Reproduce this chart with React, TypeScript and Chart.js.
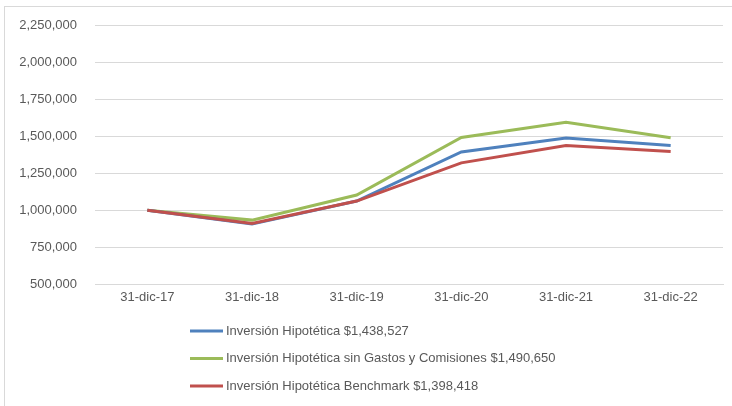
import React, { useEffect, useRef } from "react";
import { Chart, registerables } from "chart.js";

Chart.register(...registerables);

const categories = ["31-dic-17", "31-dic-18", "31-dic-19", "31-dic-20", "31-dic-21", "31-dic-22"];
const seriesNames = [
  "Inversión Hipotética $1,438,527",
  "Inversión Hipotética sin Gastos y Comisiones $1,490,650",
  "Inversión Hipotética Benchmark $1,398,418",
];
const inversion = [1000000, 906000, 1062000, 1395000, 1489000, 1438527];
const sinGastos = [1000000, 933000, 1103000, 1493000, 1597000, 1490650];
const benchmark = [1000000, 910000, 1062000, 1321000, 1439000, 1398418];
const colors = ["#4f81bd", "#9bbb59", "#c0504d"];

const yMin = 500000;
const yMax = 2250000;
const yStep = 250000;

const FONT = "'Liberation Sans', Arial, sans-serif";
const TEXT_COLOR = "#595959";

const legendPlugin = {
  id: "customLegend",
  afterDraw(chart: any) {
    const ctx = chart.ctx;
    const ds = chart.data.datasets;
    ctx.save();
    ds.forEach((d: any, i: number) => {
      const y = 331 + i * 27.5;
      ctx.strokeStyle = d.borderColor;
      ctx.lineWidth = 3;
      ctx.lineCap = "butt";
      ctx.beginPath();
      ctx.moveTo(190, y);
      ctx.lineTo(223, y);
      ctx.stroke();
      ctx.fillStyle = TEXT_COLOR;
      ctx.font = `13px ${FONT}`;
      ctx.textBaseline = "middle";
      ctx.textAlign = "left";
      ctx.fillText(d.label, 226, y);
    });
    ctx.restore();
  },
};

export default function App() {
  const ref = useRef<HTMLCanvasElement | null>(null);
  useEffect(() => {
    if (!ref.current) return;
    const seriesData = [inversion, sinGastos, benchmark];
    const chart = new Chart(ref.current, {
      type: "line",
      data: {
        labels: categories,
        datasets: seriesNames.map((name, i) => ({
          label: name,
          data: seriesData[i],
          borderColor: colors[i],
          backgroundColor: colors[i],
          borderWidth: 3,
          pointRadius: 0,
          tension: 0,
          fill: false,
          order: i === 0 ? 1 : i === 1 ? 2 : 0,
        })),
      },
      options: {
        responsive: false,
        animation: false,
        layout: { padding: { top: 24, right: 9, bottom: 102, left: 0 } },
        plugins: {
          legend: { display: false },
          tooltip: { enabled: false },
        },
        scales: {
          x: {
            offset: true,
            grid: { display: false, drawTicks: false },
            border: { display: true, color: "#d9d9d9", width: 1 },
            ticks: { color: TEXT_COLOR, font: { family: FONT, size: 13 }, padding: 6, maxRotation: 0 },
            afterFit: (s: any) => {
              s.height = 20;
            },
          },
          y: {
            min: yMin,
            max: yMax,
            grid: { color: "#d9d9d9", lineWidth: 1, drawTicks: false },
            border: { display: false },
            ticks: {
              stepSize: yStep,
              color: TEXT_COLOR,
              font: { family: FONT, size: 13 },
              padding: 18,
              callback: (v: any) => Number(v).toLocaleString("en-US"),
            },
            afterFit: (s: any) => {
              s.width = 95;
            },
          },
        },
      },
      plugins: [legendPlugin],
    });
    return () => chart.destroy();
  }, []);
  return (
    <div style={{ position: "fixed", left: 0, top: 0, width: 732, height: 406, overflow: "hidden", background: "#fff" }}>
      <div
        style={{
          position: "absolute",
          left: 4,
          top: 6,
          width: 760,
          height: 440,
          border: "1px solid #d9d9d9",
          boxSizing: "border-box",
        }}
      />
      <canvas ref={ref} width={732} height={406} style={{ position: "absolute", left: 0, top: 0 }} />
    </div>
  );
}
